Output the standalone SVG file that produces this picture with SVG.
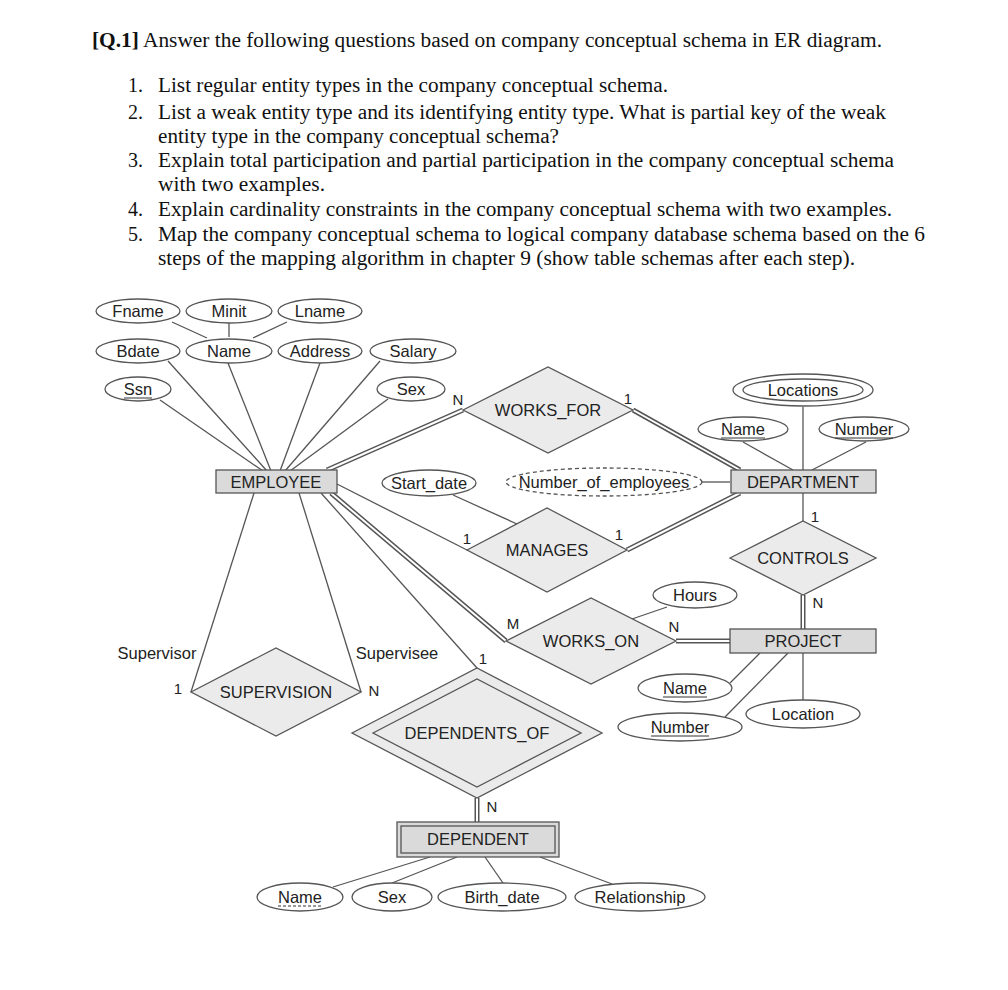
<svg xmlns="http://www.w3.org/2000/svg" width="1008" height="990" viewBox="0 0 1008 990">
<style>
.q{font-family:"Liberation Serif","Times New Roman",serif;font-size:20px;fill:#111}
.t{font-family:"Liberation Sans",Arial,sans-serif;font-size:16.5px;fill:#222;text-anchor:middle}
.lb{font-family:"Liberation Sans",Arial,sans-serif;font-size:15px;fill:#222;text-anchor:middle}
.att{fill:#fff;stroke:#555;stroke-width:1.3}
.ent{fill:#dadada;stroke:#555;stroke-width:1.3}
.rel{fill:#ebebeb;stroke:#555;stroke-width:1.3}
.ln{stroke:#555;stroke-width:1.3;fill:none}
.dbo{stroke:#555;stroke-width:5;fill:none}
.dbi{stroke:#fff;stroke-width:2;fill:none}
.ul{stroke:#333;stroke-width:1}
</style>
<rect width="1008" height="990" fill="#fff"/>
<g id="questions">
<text class="q" x="92" y="47" textLength="790" lengthAdjust="spacingAndGlyphs"><tspan font-weight="bold">[Q.1]</tspan> Answer the following questions based on company conceptual schema in ER diagram.</text>
<text class="q" x="128" y="92">1.</text>
<text class="q" x="158" y="92" textLength="510" lengthAdjust="spacingAndGlyphs">List regular entity types in the company conceptual schema.</text>
<text class="q" x="128" y="119">2.</text>
<text class="q" x="158" y="119" textLength="728" lengthAdjust="spacingAndGlyphs">List a weak entity type and its identifying entity type. What is partial key of the weak</text>
<text class="q" x="158" y="143" textLength="401" lengthAdjust="spacingAndGlyphs">entity type in the company conceptual schema?</text>
<text class="q" x="128" y="167">3.</text>
<text class="q" x="158" y="167" textLength="736" lengthAdjust="spacingAndGlyphs">Explain total participation and partial participation in the company conceptual schema</text>
<text class="q" x="158" y="191" textLength="167" lengthAdjust="spacingAndGlyphs">with two examples.</text>
<text class="q" x="128" y="216">4.</text>
<text class="q" x="158" y="216" textLength="734" lengthAdjust="spacingAndGlyphs">Explain cardinality constraints in the company conceptual schema with two examples.</text>
<text class="q" x="128" y="241">5.</text>
<text class="q" x="158" y="241" textLength="767" lengthAdjust="spacingAndGlyphs">Map the company conceptual schema to logical company database schema based on the 6</text>
<text class="q" x="158" y="265" textLength="697" lengthAdjust="spacingAndGlyphs">steps of the mapping algorithm in chapter 9 (show table schemas after each step).</text>
</g>
<g id="connectors">
<line class="ln" x1="172" y1="322" x2="207" y2="338"/>
<line class="ln" x1="229" y1="323" x2="229" y2="337"/>
<line class="ln" x1="287" y1="322" x2="253" y2="338"/>
<line class="ln" x1="160" y1="400" x2="263" y2="471"/>
<line class="ln" x1="168" y1="361" x2="267" y2="471"/>
<line class="ln" x1="228" y1="363" x2="271" y2="471"/>
<line class="ln" x1="320" y1="363" x2="280" y2="471"/>
<line class="ln" x1="380" y1="361" x2="285" y2="471"/>
<line class="ln" x1="388" y1="399" x2="290" y2="471"/>
<line class="ln" x1="337" y1="484" x2="467" y2="550"/>
<line class="ln" x1="453" y1="495" x2="517" y2="524"/>
<line class="ln" x1="803" y1="407" x2="803" y2="470"/>
<line class="ln" x1="743" y1="442" x2="793" y2="470"/>
<line class="ln" x1="866" y1="442" x2="812" y2="470"/>
<line class="ln" x1="702" y1="482" x2="730" y2="482"/>
<line class="ln" x1="803" y1="493" x2="803" y2="521"/>
<line class="ln" x1="667" y1="607" x2="632" y2="619"/>
<line class="ln" x1="730" y1="683" x2="760" y2="653"/>
<line class="ln" x1="725" y1="717" x2="788" y2="653"/>
<line class="ln" x1="803" y1="700" x2="803" y2="653"/>
<line class="ln" x1="254" y1="493" x2="191" y2="692"/>
<line class="ln" x1="299" y1="493" x2="361" y2="692"/>
<line class="ln" x1="321" y1="493" x2="477" y2="668"/>
<line class="ln" x1="430" y1="857" x2="333" y2="887"/>
<line class="ln" x1="457" y1="857" x2="392" y2="883"/>
<line class="ln" x1="485" y1="857" x2="503" y2="883"/>
<line class="ln" x1="540" y1="857" x2="612" y2="884"/>
<g id="double-lines">
<path class="dbo" d="M327,470 L463,410 M633,410 L740,470 M740,493 L627,550 M331,493 L506,641 M676,641 L730,641 M803,595 L803,629 M477,798 L477,822"/>
<path class="dbi" d="M327,470 L463,410 M633,410 L740,470 M740,493 L627,550 M331,493 L506,641 M676,641 L730,641 M803,595 L803,629 M477,798 L477,822"/>
</g>
</g>
<g id="attr-fname"><ellipse class="att" cx="138" cy="311" rx="42" ry="12"/><text class="t" x="138" y="317">Fname</text></g>
<g id="attr-minit"><ellipse class="att" cx="229" cy="311" rx="43" ry="12"/><text class="t" x="229" y="317">Minit</text></g>
<g id="attr-lname"><ellipse class="att" cx="320" cy="311" rx="42" ry="12"/><text class="t" x="320" y="317">Lname</text></g>
<g id="attr-bdate"><ellipse class="att" cx="138" cy="351" rx="42" ry="12"/><text class="t" x="138" y="357">Bdate</text></g>
<g id="attr-name"><ellipse class="att" cx="229" cy="351" rx="43" ry="12"/><text class="t" x="229" y="357">Name</text></g>
<g id="attr-address"><ellipse class="att" cx="320" cy="351" rx="42" ry="12"/><text class="t" x="320" y="357">Address</text></g>
<g id="attr-salary"><ellipse class="att" cx="413" cy="351" rx="43" ry="12"/><text class="t" x="413" y="357">Salary</text></g>
<g id="attr-ssn"><ellipse class="att" cx="138" cy="389" rx="33" ry="12"/><text class="t" x="138" y="395">Ssn</text><line class="ul" x1="124" y1="398" x2="152" y2="398"/></g>
<g id="attr-sex"><ellipse class="att" cx="411" cy="389" rx="34" ry="12"/><text class="t" x="411" y="395">Sex</text></g>
<g id="attr-locations"><ellipse class="att" cx="803" cy="390" rx="70" ry="16"/><ellipse class="att" cx="803" cy="390" rx="60" ry="11"/><text class="t" x="803" y="396">Locations</text></g>
<g id="attr-dname"><ellipse class="att" cx="743" cy="429" rx="45" ry="12"/><text class="t" x="743" y="435">Name</text><line class="ul" x1="721" y1="438" x2="765" y2="438"/></g>
<g id="attr-dnumber"><ellipse class="att" cx="864" cy="429" rx="45" ry="12"/><text class="t" x="864" y="435">Number</text><line class="ul" x1="835" y1="438" x2="893" y2="438"/></g>
<g id="attr-startdate"><ellipse class="att" cx="429" cy="483" rx="47" ry="13"/><text class="t" x="429" y="489">Start_date</text></g>
<g id="attr-numemp"><ellipse class="att" cx="604" cy="482" rx="98" ry="14" stroke-dasharray="4 3"/><text class="t" x="604" y="488">Number_of_employees</text></g>
<g id="attr-hours"><ellipse class="att" cx="695" cy="595" rx="42" ry="13"/><text class="t" x="695" y="601">Hours</text></g>
<g id="attr-pname"><ellipse class="att" cx="685" cy="688" rx="47" ry="14"/><text class="t" x="685" y="694">Name</text><line class="ul" x1="663" y1="697" x2="707" y2="697"/></g>
<g id="attr-pnumber"><ellipse class="att" cx="680" cy="727" rx="62" ry="14"/><text class="t" x="680" y="733">Number</text><line class="ul" x1="651" y1="736" x2="709" y2="736"/></g>
<g id="attr-location"><ellipse class="att" cx="803" cy="714" rx="57" ry="14"/><text class="t" x="803" y="720">Location</text></g>
<g id="attr-depname"><ellipse class="att" cx="300" cy="897" rx="43" ry="14"/><text class="t" x="300" y="903">Name</text><line class="ul" x1="278" y1="906" x2="322" y2="906" stroke-dasharray="3 2"/></g>
<g id="attr-depsex"><ellipse class="att" cx="392" cy="897" rx="40" ry="14"/><text class="t" x="392" y="903">Sex</text></g>
<g id="attr-birthdate"><ellipse class="att" cx="502" cy="897" rx="64" ry="14"/><text class="t" x="502" y="903">Birth_date</text></g>
<g id="attr-relationship"><ellipse class="att" cx="640" cy="897" rx="65" ry="14"/><text class="t" x="640" y="903">Relationship</text></g>
<g id="employee"><rect class="ent" x="216" y="470" width="121" height="23"/><text class="t" x="276" y="488">EMPLOYEE</text></g>
<g id="department"><rect class="ent" x="731" y="470" width="145" height="23"/><text class="t" x="803" y="488">DEPARTMENT</text></g>
<g id="project"><rect class="ent" x="730" y="629" width="146" height="24"/><text class="t" x="803" y="647">PROJECT</text></g>
<g id="dependent"><rect class="ent" x="397" y="822" width="162" height="35"/><rect class="ent" x="401" y="826" width="154" height="27"/><text class="t" x="478" y="845">DEPENDENT</text></g>
<g id="works-for"><polygon class="rel" points="463,410 548,367 633,410 548,453"/><text class="t" x="548" y="416">WORKS_FOR</text></g>
<g id="manages"><polygon class="rel" points="467,550 547,508 627,550 547,592"/><text class="t" x="547" y="556">MANAGES</text></g>
<g id="controls"><polygon class="rel" points="730,558 803,521 876,558 803,595"/><text class="t" x="803" y="564">CONTROLS</text></g>
<g id="works-on"><polygon class="rel" points="506,641 591,598 676,641 591,684"/><text class="t" x="591" y="647">WORKS_ON</text></g>
<g id="supervision"><polygon class="rel" points="191,692 276,648 361,692 276,736"/><text class="t" x="276" y="698">SUPERVISION</text></g>
<g id="dependents-of"><polygon class="rel" points="352,733 477,668 602,733 477,798"/><polygon class="rel" points="373,733 477,679 581,733 477,787"/><text class="t" x="477" y="739">DEPENDENTS_OF</text></g>
<g id="labels">
<text class="lb" x="458" y="405">N</text>
<text class="lb" x="628" y="404">1</text>
<text class="lb" x="815" y="522">1</text>
<text class="lb" x="467" y="544">1</text>
<text class="lb" x="619" y="540">1</text>
<text class="lb" x="818" y="608">N</text>
<text class="lb" x="513" y="629">M</text>
<text class="lb" x="674" y="632">N</text>
<text class="t" x="157" y="659">Supervisor</text>
<text class="lb" x="178" y="694">1</text>
<text class="t" x="397" y="659">Supervisee</text>
<text class="lb" x="374" y="696">N</text>
<text class="lb" x="483" y="664">1</text>
<text class="lb" x="492" y="812">N</text>
</g>
</svg>
